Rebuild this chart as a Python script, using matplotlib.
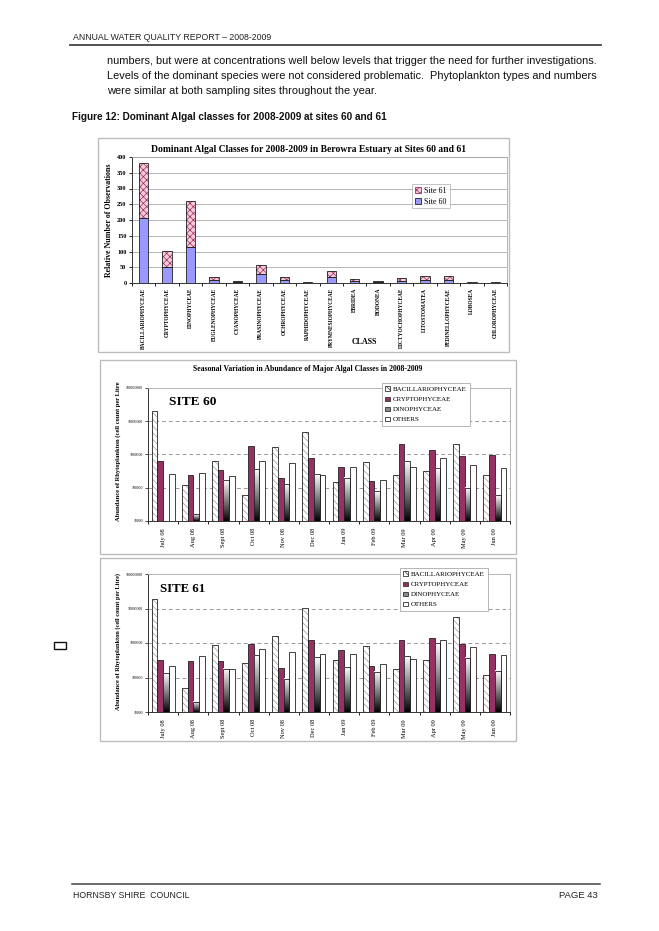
import numpy as np
import matplotlib
matplotlib.use('Agg')
import matplotlib.pyplot as plt
from matplotlib.patches import Rectangle, Patch
from matplotlib.lines import Line2D

# ---------------- data ----------------
classes = ['BACILLARIOPHYCEAE', 'CRYPTOPHYCEAE', 'DINOPHYCEAE', 'EUGLENOPHYCEAE',
           'CYANOPHYCEAE', 'PRASINOPHYCEAE', 'OCHROPHYCEAE', 'RAPHIDOPHYCEAE',
           'PRYMNESIOPHYCEAE', 'EBRIDEA', 'BODONEA', 'DICTYOCHOPHYCEAE',
           'LITOSTOMATEA', 'PEDINELLOPHYCEAE', 'LOBOSEA', 'CHLOROPHYCEAE']
site60_obs = [205, 52, 114, 9, 2, 28, 8, 1, 18, 6, 2, 7, 10, 8, 1, 1]
site61_obs = [176, 51, 146, 10, 3, 29, 10, 2, 20, 7, 3, 9, 12, 14, 1, 1]
obs_ticks = [0, 50, 100, 150, 200, 250, 300, 350, 400]

months = ['July 08', 'Aug 08', 'Sept 08', 'Oct 08', 'Nov 08', 'Dec 08',
          'Jan 09', 'Feb 09', 'Mar 09', 'Apr 09', 'May 09', 'Jun 09']
groups = ['BACILLARIOPHYCEAE', 'CRYPTOPHYCEAE', 'DINOPHYCEAE', 'OTHERS']

s60_bacil = [2.0e7, 1.2e5, 6.3e5, 5.9e4, 1.66e6, 4.9e6, 1.48e5, 5.75e5, 2.34e5, 3.3e5, 2.0e6, 2.45e5]
s60_crypto = [6.3e5, 2.45e5, 3.4e5, 1.8e6, 2.0e5, 8.0e5, 4.17e5, 1.58e5, 2.1e6, 1.35e6, 9.1e5, 9.5e5]
s60_dino = [np.nan, 1.6e4, 1.7e5, 3.55e5, 1.26e5, 2.57e5, 2.0e5, 7.9e4, 6.3e5, 3.9e5, 1.0e5, 5.9e4]
s60_other = [2.57e5, 2.75e5, 2.24e5, 6.3e5, 5.4e5, 2.5e5, 4.17e5, 1.66e5, 4.17e5, 8.1e5, 5.0e5, 3.8e5]

s61_bacil = [1.86e7, 4.8e4, 8.7e5, 2.63e5, 1.6e6, 1.02e7, 3.25e5, 8.0e5, 1.82e5, 3.16e5, 5.6e6, 1.15e5]
s61_crypto = [3.25e5, 2.94e5, 3.09e5, 9.3e5, 1.91e5, 1.26e6, 6.3e5, 2.14e5, 1.23e6, 1.38e6, 9.5e5, 4.8e5]
s61_dino = [1.31e5, 2.0e4, 1.82e5, 4.47e5, 9.3e4, 3.9e5, 1.95e5, 1.48e5, 4.17e5, 1.0e6, 3.72e5, 1.55e5]
s61_other = [2.19e5, 4.27e5, 1.82e5, 6.9e5, 5.37e5, 4.9e5, 4.68e5, 2.45e5, 3.4e5, 1.2e6, 7.8e5, 4.47e5]
log_ticks = [1e4, 1e5, 1e6, 1e7, 1e8]

# ---------------- layout helpers ----------------
W, H = 659, 931
fig = plt.figure(figsize=(W / 100, H / 100), dpi=100)
renderer = fig.canvas.get_renderer()
SERIF = 'Liberation Serif'
SANS = 'Liberation Sans'
plt.rcParams['hatch.linewidth'] = 0.5


def rect(x0, y0, x1, y1):
    return [x0 / W, 1 - y1 / H, (x1 - x0) / W, (y1 - y0) / H]


def fx(x):
    return x / W


def fy(y):
    return 1 - y / H


def fit(t, target, axis='w'):
    bb = t.get_window_extent(renderer)
    cur = bb.width if axis == 'w' else bb.height
    t.set_fontsize(t.get_fontsize() * target / cur)
    return t


def frame(x0, y0, x1, y1, color='#BDBDBD', lw=1.0):
    fig.add_artist(Rectangle((fx(x0), fy(y1)), (x1 - x0) / W, (y1 - y0) / H,
                             transform=fig.transFigure, fill=False,
                             edgecolor=color, lw=lw))


# ---------------- page text ----------------
fig.text(fx(73), fy(38), 'ANNUAL WATER QUALITY REPORT – 2008-2009', family=SANS,
         fontsize=6.3, va='center', color='#222')
fig.add_artist(Line2D([fx(70), fx(601)], [fy(45), fy(45)], color='#444', lw=1.3))

para = ['numbers, but were at concentrations well below levels that trigger the need for further investigations.',
        'Levels of the dominant species were not considered problematic.  Phytoplankton types and numbers',
        'were similar at both sampling sites throughout the year.']
t1 = fit(fig.text(fx(107), fy(61), para[0], family=SANS, fontsize=9, va='center', color='#111'), 490)
t2 = fit(fig.text(fx(107), fy(76), para[1], family=SANS, fontsize=9, va='center', color='#111'), 490)
fig.text(fx(107), fy(91), para[2], family=SANS, fontsize=t2.get_fontsize(), va='center', color='#111')

fit(fig.text(fx(72), fy(117), 'Figure 12: Dominant Algal classes for 2008-2009 at sites 60 and 61',
             family=['Liberation Sans Narrow', 'Liberation Sans'], weight='bold', fontsize=8,
             va='center', color='#111'), 316)

# footer
fig.add_artist(Line2D([fx(72), fx(600)], [fy(884), fy(884)], color='#444', lw=1.1))
fig.text(fx(73), fy(895), 'HORNSBY SHIRE  COUNCIL', family=SANS, fontsize=6.3, va='center', color='#222')
fig.text(fx(598), fy(895), 'PAGE 43', family=SANS, fontsize=6.8, va='center', ha='right', color='#222')

# small square in margin
fig.add_artist(Rectangle((fx(54), fy(649)), 12 / W, 7 / H, transform=fig.transFigure,
                         fill=False, edgecolor='#111', lw=1.0))

# ---------------- top chart ----------------
frame(98, 138, 509, 352)
ax1 = fig.add_axes(rect(132, 157, 507, 283))
x = np.arange(len(classes))
ax1.bar(x, site60_obs, width=0.4, color='#9999FF', edgecolor='#222', lw=0.6, zorder=3)
ax1.bar(x, site61_obs, width=0.4, bottom=site60_obs, color='#F6CADB', hatch='xxxxx',
        edgecolor='#9A3060', lw=0, zorder=3)
ax1.bar(x, site61_obs, width=0.4, bottom=site60_obs, fill=False, edgecolor='#222', lw=0.6, zorder=4)
ax1.set_xlim(-0.5, len(classes) - 0.5)
ax1.set_ylim(0, 400)
ax1.set_yticks(obs_ticks)
ax1.set_yticklabels([str(v) for v in obs_ticks], family=SERIF, weight='bold', fontsize=4.5)
ax1.set_xticks(x)
ax1.set_xticklabels(classes, rotation=90, family=SERIF, weight='bold', fontsize=4.0, va='top')
ax1.set_xticks(np.arange(len(classes) + 1) - 0.5, minor=True)
ax1.tick_params(axis='x', which='major', length=0, pad=3.5)
ax1.tick_params(axis='x', which='minor', length=2.5, width=0.6)
ax1.tick_params(axis='y', length=2.5, width=0.6, pad=1.5)
ax1.yaxis.grid(True, color='#A8A8A8', lw=0.6)
ax1.set_axisbelow(True)
for s in ['top', 'right']:
    ax1.spines[s].set_color('#A8A8A8')
    ax1.spines[s].set_linewidth(0.6)
for s in ['left', 'bottom']:
    ax1.spines[s].set_color('#333')
    ax1.spines[s].set_linewidth(0.7)
fit(fig.text(fx(309), fy(150), 'Dominant Algal Classes for 2008-2009 in Berowra Estuary at Sites 60 and 61',
             family=SERIF, weight='bold', fontsize=8, ha='center', va='center'), 313)
fit(fig.text(fx(109), fy(220), 'Relative Number of Observations', family=SERIF, weight='bold',
             fontsize=6, rotation=90, ha='center', va='center'), 113, axis='h')
fig.text(fx(364), fy(342), 'CLASS', family=SERIF, weight='bold', fontsize=5.8, ha='center', va='center')
leg_h = [Patch(facecolor='#F6CADB', edgecolor='#9A3060', hatch='xxxxx', lw=0.6, label='Site 61'),
         Patch(facecolor='#9999FF', edgecolor='#222', lw=0.6, label='Site 60')]
lg = fig.legend(handles=leg_h, loc='upper left', bbox_to_anchor=(fx(412), fy(184)),
                prop={'family': SERIF, 'size': 5.8}, frameon=True, fancybox=False,
                edgecolor='#A8A8A8', handlelength=0.8, handleheight=0.8, handletextpad=0.4,
                borderpad=0.35, labelspacing=0.35, borderaxespad=0)
lg.get_frame().set_linewidth(0.6)

# ---------------- seasonal charts ----------------
grad = np.linspace(1, 0, 256).reshape(-1, 1)
BW = 0.19
offsets = np.array([-1.5, -0.5, 0.5, 1.5]) * BW
MAROON = '#963263'


def seasonal(box, axbox, vals, title, ylabel, ylab_y, ylab_h, site, site_xy, site_w, leg_xy):
    frame(*box)
    ax = fig.add_axes(rect(*axbox))
    ax.set_yscale('log')
    n = len(months)
    ax.set_xlim(-0.5, n - 0.5)
    ax.set_ylim(log_ticks[0], log_ticks[-1])
    ax.set_autoscale_on(False)
    xm = np.arange(n)
    b, c, d, o = vals
    # bacillariophyceae: hatched
    ax.bar(xm + offsets[0], np.array(b) - log_ticks[0], width=BW, bottom=log_ticks[0], color='white',
           hatch='\\\\\\\\\\', edgecolor='#9A9A9A', lw=0, zorder=3)
    ax.bar(xm + offsets[0], np.array(b) - log_ticks[0], width=BW, bottom=log_ticks[0], fill=False,
           edgecolor='#222', lw=0.6, zorder=4)
    # cryptophyceae
    ax.bar(xm + offsets[1], np.array(c) - log_ticks[0], width=BW, bottom=log_ticks[0], color=MAROON,
           edgecolor='#222', lw=0.6, zorder=3)
    # dinophyceae: gradient
    ax.bar(xm + offsets[2], np.array(d) - log_ticks[0], width=BW, bottom=log_ticks[0],
           fill=False, edgecolor='#222', lw=0.6, zorder=4)
    lo, hi = np.log10(log_ticks[0]), np.log10(log_ticks[-1])
    for xi, v in zip(xm + offsets[2], d):
        if not np.isfinite(v):
            continue
        x0 = (xi - BW / 2 + 0.5) / n
        x1 = (xi + BW / 2 + 0.5) / n
        y1 = (np.log10(v) - lo) / (hi - lo)
        ax.imshow(grad, cmap='gray', vmin=0, vmax=1, aspect='auto', origin='upper',
                  extent=(x0, x1, 0, y1), transform=ax.transAxes, zorder=3,
                  interpolation='bilinear')
    # others
    ax.bar(xm + offsets[3], np.array(o) - log_ticks[0], width=BW, bottom=log_ticks[0], color='white',
           edgecolor='#222', lw=0.6, zorder=3)
    ax.set_xlim(-0.5, n - 0.5)
    ax.set_ylim(log_ticks[0], log_ticks[-1])

    ax.set_yticks(log_ticks)
    ax.set_yticklabels([str(int(v)) for v in log_ticks], family=SERIF, fontsize=2.8)
    ax.yaxis.set_minor_locator(matplotlib.ticker.NullLocator())
    ax.tick_params(axis='y', length=2, width=0.5, pad=1.5)
    ax.set_xticks(xm)
    ax.set_xticklabels(months, rotation=90, family=SERIF, fontsize=4.6, va='top')
    ax.set_xticks(np.arange(n + 1) - 0.5, minor=True)
    ax.tick_params(axis='x', which='major', length=0, pad=5)
    ax.tick_params(axis='x', which='minor', length=2.5, width=0.6)
    for gv in log_ticks[1:-1]:
        ax.axhline(gv, color='#9A9A9A', lw=0.7, ls=(0, (4, 3)), zorder=1)
    for s in ['top', 'right']:
        ax.spines[s].set_color('#A8A8A8')
        ax.spines[s].set_linewidth(0.6)
    for s in ['left', 'bottom']:
        ax.spines[s].set_color('#333')
        ax.spines[s].set_linewidth(0.7)
    if title:
        fit(fig.text(fx(308), fy(369), title, family=SERIF, weight='bold', fontsize=6,
                     ha='center', va='center'), 233)
    fit(fig.text(fx(118), fy(ylab_y), ylabel, family=SERIF, weight='bold', fontsize=5,
                 rotation=90, ha='center', va='center'), ylab_h, axis='h')
    fit(fig.text(fx(site_xy[0]), fy(site_xy[1]), site, family=SERIF, weight='bold', fontsize=12,
                 ha='left', va='center'), site_w)
    hands = [Patch(facecolor='white', edgecolor='#333', hatch='\\\\\\\\', lw=0.6, label=groups[0]),
             Patch(facecolor=MAROON, edgecolor='#333', lw=0.6, label=groups[1]),
             Patch(facecolor='#8A8A8A', edgecolor='#333', lw=0.6, label=groups[2]),
             Patch(facecolor='white', edgecolor='#333', lw=0.6, label=groups[3])]
    lg = fig.legend(handles=hands, loc='upper left', bbox_to_anchor=(fx(leg_xy[0]), fy(leg_xy[1])),
                    prop={'family': SERIF, 'size': 5}, frameon=True, fancybox=False,
                    edgecolor='#A8A8A8', framealpha=1, handlelength=0.7, handleheight=0.7,
                    handletextpad=0.3, borderpad=0.5, labelspacing=0.6, borderaxespad=0)
    lg.get_frame().set_linewidth(0.6)
    return ax


seasonal((100, 360, 516, 554), (148, 388, 510, 521),
         (s60_bacil, s60_crypto, s60_dino, s60_other),
         'Seasonal Variation in Abundance of Major Algal Classes in 2008-2009',
         'Abundance of Rhytoplankton (cell count per Litre', 451, 142,
         'SITE 60', (169, 402), 47, (382, 383))
seasonal((100, 558, 516, 741), (148, 574, 510, 712),
         (s61_bacil, s61_crypto, s61_dino, s61_other),
         None,
         'Abundance of Rhytoplankton (cell count per Litre)', 642, 137,
         'SITE 61', (160, 589), 45, (400, 568))

fig.savefig('out.png', dpi=100, facecolor='white')
